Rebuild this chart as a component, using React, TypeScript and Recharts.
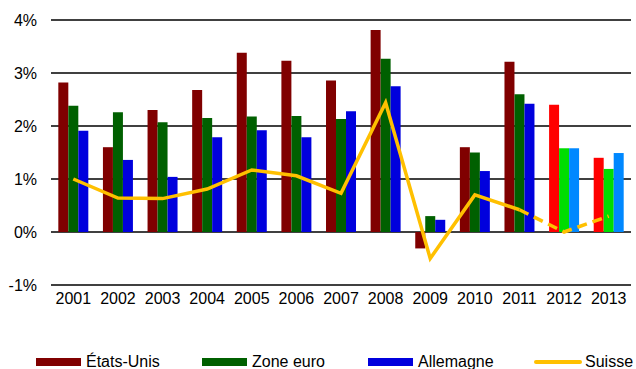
import { ComposedChart, Bar, Line, Cell, XAxis, YAxis, CartesianGrid } from 'recharts';

const years = ['2001', '2002', '2003', '2004', '2005', '2006', '2007', '2008', '2009', '2010', '2011', '2012', '2013'];
const etatsUnis = [2.82, 1.6, 2.3, 2.68, 3.38, 3.23, 2.86, 3.81, -0.31, 1.6, 3.21, 2.4, 1.4];
const zoneEuro = [2.38, 2.26, 2.07, 2.15, 2.18, 2.19, 2.13, 3.27, 0.3, 1.5, 2.6, 1.58, 1.19];
const allemagne = [1.91, 1.36, 1.04, 1.79, 1.92, 1.79, 2.28, 2.75, 0.23, 1.15, 2.42, 1.58, 1.49];
const suisse = [1.0, 0.64, 0.63, 0.81, 1.17, 1.06, 0.73, 2.44, -0.5, 0.7, 0.42, 0.0, 0.3];
// last year with actual figures; later years are forecasts
const lastActual = '2011';
const yTicks = [-1, 0, 1, 2, 3, 4];

const colors = {
  us: '#800000',
  euro: '#006000',
  de: '#0000dd',
  usForecast: '#ff0000',
  euroForecast: '#00dd00',
  deForecast: '#0088ff',
  ch: '#ffc000',
};

const splitIdx = years.indexOf(lastActual);

const data = years.map((year, i) => ({
  year,
  us: etatsUnis[i],
  euro: zoneEuro[i],
  de: allemagne[i],
  ch: i <= splitIdx ? suisse[i] : null,
  chForecast: i >= splitIdx ? suisse[i] : null,
  forecast: i > splitIdx,
}));

const font = '"Liberation Sans", Arial, sans-serif';

const legendItems = [
  { label: 'États-Unis', color: colors.us, x: 36, line: false },
  { label: 'Zone euro', color: colors.euro, x: 202, line: false },
  { label: 'Allemagne', color: colors.de, x: 368, line: false },
  { label: 'Suisse', color: colors.ch, x: 534, line: true },
];

export default function App() {
  return (
    <div style={{ position: 'absolute', left: 0, top: 0, width: 636, height: 369, background: '#fff', fontFamily: font }}>
      <ComposedChart
        width={636}
        height={369}
        data={data}
        margin={{ top: 20, right: 5, left: 0, bottom: 54 }}
        barCategoryGap="16.4%"
        barGap={0}
      >
        <CartesianGrid vertical={false} stroke="#000" strokeWidth={1.4} />
        <XAxis
          dataKey="year"
          height={30}
          axisLine={false}
          tickLine={false}
          interval={0}
          tick={{ fill: '#000', fontSize: 16, fontFamily: font }}
        />
        <YAxis
          width={51}
          domain={[-1, 4]}
          ticks={yTicks}
          tickFormatter={(v) => `${v}%`}
          axisLine={false}
          tickLine={false}
          tickMargin={8}
          tick={{ fill: '#000', fontSize: 16, fontFamily: font }}
        />
        <Bar dataKey="us" isAnimationActive={false}>
          {data.map((d, i) => (
            <Cell key={`us-${i}`} fill={d.forecast ? colors.usForecast : colors.us} />
          ))}
        </Bar>
        <Bar dataKey="euro" isAnimationActive={false}>
          {data.map((d, i) => (
            <Cell key={`euro-${i}`} fill={d.forecast ? colors.euroForecast : colors.euro} />
          ))}
        </Bar>
        <Bar dataKey="de" isAnimationActive={false}>
          {data.map((d, i) => (
            <Cell key={`de-${i}`} fill={d.forecast ? colors.deForecast : colors.de} />
          ))}
        </Bar>
        <Line
          dataKey="ch"
          type="linear"
          stroke={colors.ch}
          strokeWidth={3.5}
          dot={false}
          activeDot={false}
          isAnimationActive={false}
        />
        <Line
          dataKey="chForecast"
          type="linear"
          stroke={colors.ch}
          strokeWidth={3.5}
          strokeDasharray="10 6"
          dot={false}
          activeDot={false}
          isAnimationActive={false}
        />
      </ComposedChart>
      {legendItems.map((item) => (
        <div key={item.label} style={{ position: 'absolute', left: item.x, top: 352, height: 20, display: 'flex', alignItems: 'center' }}>
          <div
            style={{
              width: item.line ? 48 : 45,
              height: item.line ? 3.5 : 8,
              borderRadius: item.line ? 2 : 0,
              background: item.color,
            }}
          />
          <span style={{ marginLeft: item.line ? 3 : 5, fontSize: 16, color: '#000', lineHeight: '20px' }}>{item.label}</span>
        </div>
      ))}
    </div>
  );
}
